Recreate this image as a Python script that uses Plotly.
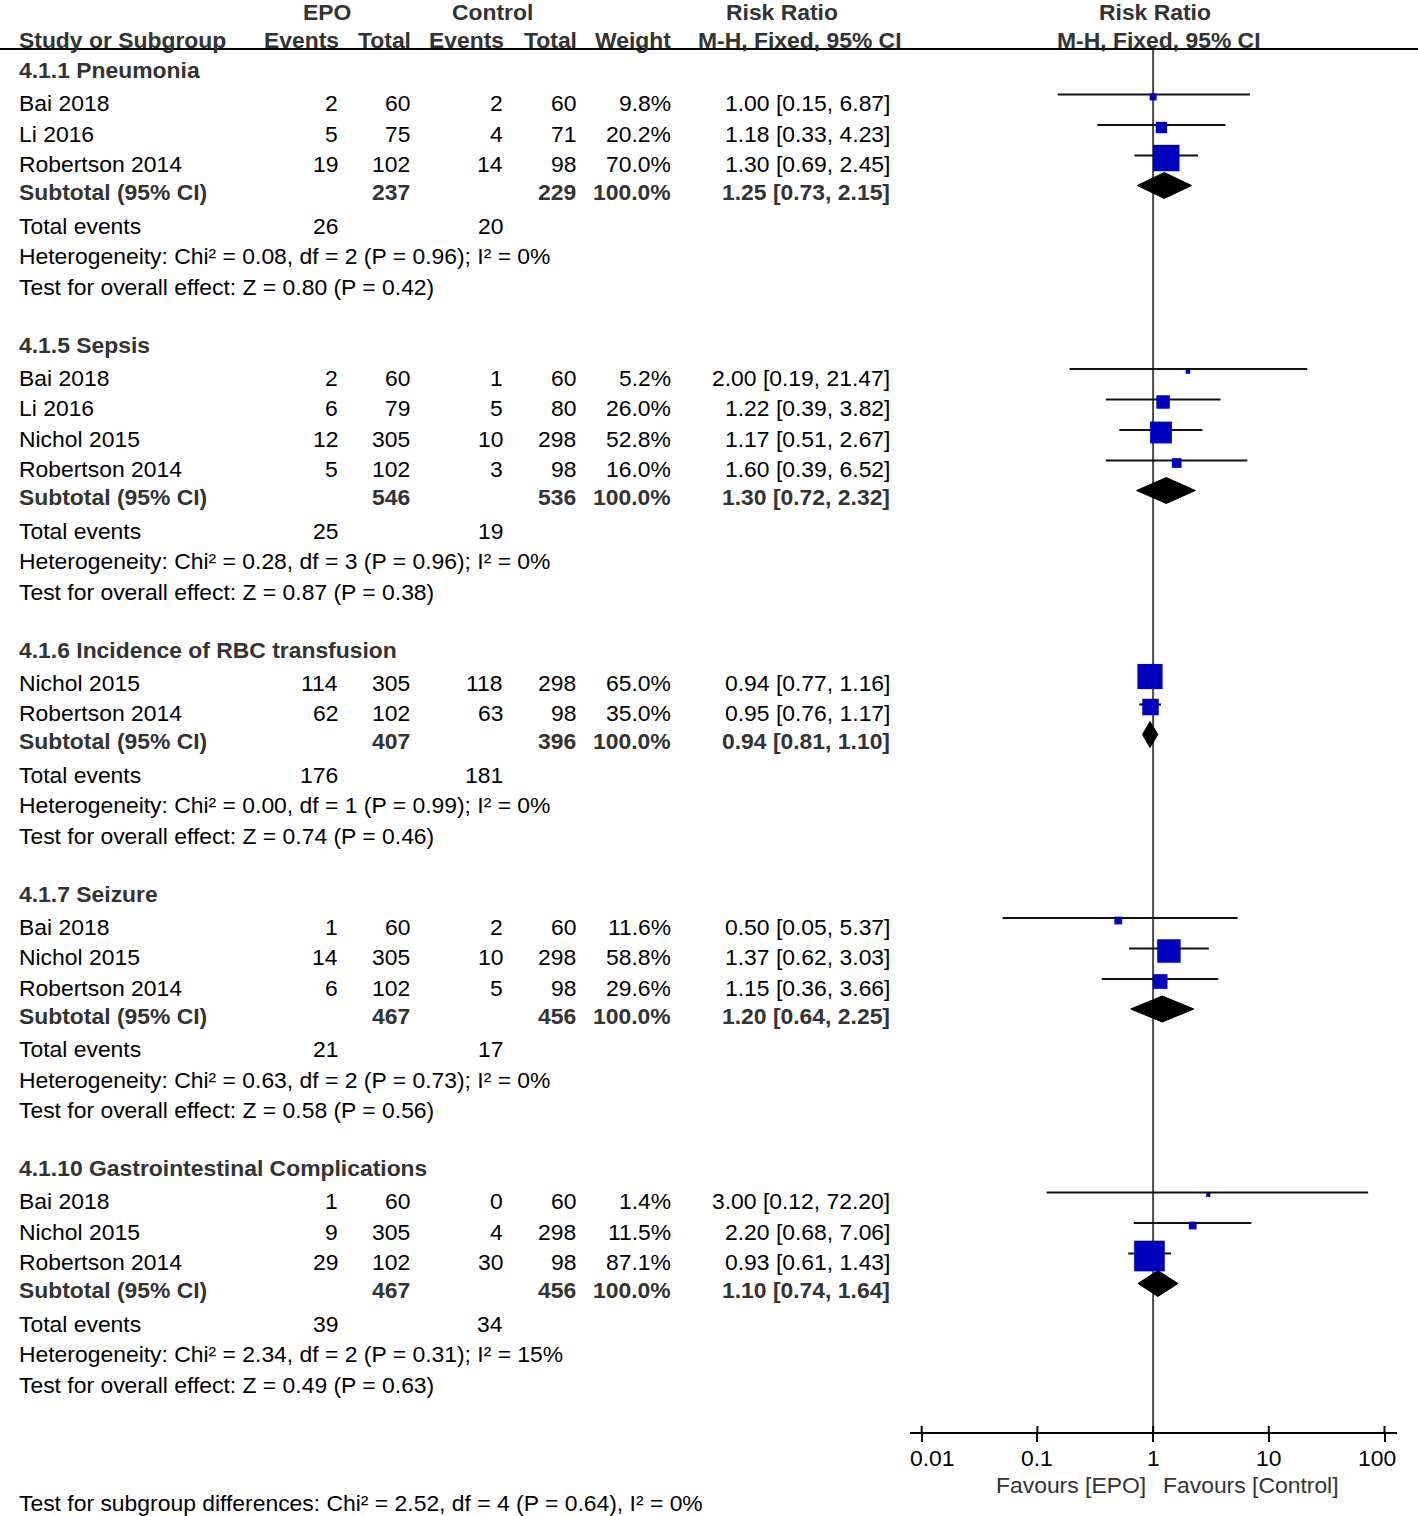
import math
import plotly.graph_objects as go

W, H = 1418, 1516

# ---------------- data ----------------
group_names = ["4.1.1 Pneumonia", "4.1.5 Sepsis", "4.1.6 Incidence of RBC transfusion",
               "4.1.7 Seizure", "4.1.10 Gastrointestinal Complications"]
study_names = [["Bai 2018", "Li 2016", "Robertson 2014"],
               ["Bai 2018", "Li 2016", "Nichol 2015", "Robertson 2014"],
               ["Nichol 2015", "Robertson 2014"],
               ["Bai 2018", "Nichol 2015", "Robertson 2014"],
               ["Bai 2018", "Nichol 2015", "Robertson 2014"]]
epo_events = [[2, 5, 19], [2, 6, 12, 5], [114, 62], [1, 14, 6], [1, 9, 29]]
epo_totals = [[60, 75, 102], [60, 79, 305, 102], [305, 102], [60, 305, 102], [60, 305, 102]]
ctl_events = [[2, 4, 14], [1, 5, 10, 3], [118, 63], [2, 10, 5], [0, 4, 30]]
ctl_totals = [[60, 71, 98], [60, 80, 298, 98], [298, 98], [60, 298, 98], [60, 298, 98]]
weights = [[9.8, 20.2, 70.0], [5.2, 26.0, 52.8, 16.0], [65.0, 35.0], [11.6, 58.8, 29.6], [1.4, 11.5, 87.1]]
rr = [[1.00, 1.18, 1.30], [2.00, 1.22, 1.17, 1.60], [0.94, 0.95], [0.50, 1.37, 1.15], [3.00, 2.20, 0.93]]
rr_lo = [[0.15, 0.33, 0.69], [0.19, 0.39, 0.51, 0.39], [0.77, 0.76], [0.05, 0.62, 0.36], [0.12, 0.68, 0.61]]
rr_hi = [[6.87, 4.23, 2.45], [21.47, 3.82, 2.67, 6.52], [1.16, 1.17], [5.37, 3.03, 3.66], [72.20, 7.06, 1.43]]

sub_epo_total = [237, 546, 407, 467, 467]
sub_ctl_total = [229, 536, 396, 456, 456]
sub_rr = [1.25, 1.30, 0.94, 1.20, 1.10]
sub_lo = [0.73, 0.72, 0.81, 0.64, 0.74]
sub_hi = [2.15, 2.32, 1.10, 2.25, 1.64]
tot_epo_events = [26, 25, 176, 21, 39]
tot_ctl_events = [20, 19, 181, 17, 34]
het_chi2 = [0.08, 0.28, 0.00, 0.63, 2.34]
het_df = [2, 3, 1, 2, 2]
het_p = [0.96, 0.96, 0.99, 0.73, 0.31]
het_i2 = [0, 0, 0, 0, 15]
z_vals = [0.80, 0.87, 0.74, 0.58, 0.49]
z_p = [0.42, 0.38, 0.46, 0.56, 0.63]

tick_vals = [0.01, 0.1, 1, 10, 100]
tick_labels = ["0.01", "0.1", "1", "10", "100"]
favours_left = "Favours [EPO]"
favours_right = "Favours [Control]"
subgroup_test = "Test for subgroup differences: Chi² = 2.52, df = 4 (P = 0.64), I² = 0%"

# ---------------- layout constants ----------------
FONT = "Liberation Sans, Arial, sans-serif"
FS = 22.9
BLACK = "#000000"
BOLDC = "#333333"
BLUE = "#0000BF"

X_NAME = 19
X_EPO_EV = 337
X_EPO_TOT = 409
X_CTL_EV = 502
X_CTL_TOT = 575
X_WEIGHT = 670
X_RR = 889
PAD = 2.5  # compensate annotation box padding

annotations = []


def txt(x, y, s, anchor="left", bold=False, color=None, xref="paper"):
    if xref == "paper":
        if anchor == "left":
            x -= PAD
        elif anchor == "right":
            x += PAD
        x = x / W
    annotations.append(dict(
        x=x, y=y, xref=xref, yref="y", text=("<b>%s</b>" % s) if bold else s,
        xanchor=anchor, yanchor="middle", showarrow=False,
        font=dict(family=FONT, size=FS, color=color or (BOLDC if bold else BLACK))))


# headers
txt(327, 12, "EPO", "center", True)
txt(492, 12, "Control", "center", True)
txt(782, 12, "Risk Ratio", "center", True)
txt(1155, 12, "Risk Ratio", "center", True)
txt(X_NAME, 40, "Study or Subgroup", "left", True)
txt(X_EPO_EV + 1, 40, "Events", "right", True)
txt(X_EPO_TOT + 1, 40, "Total", "right", True)
txt(X_CTL_EV + 1, 40, "Events", "right", True)
txt(X_CTL_TOT + 1, 40, "Total", "right", True)
txt(X_WEIGHT, 40, "Weight", "right", True)
txt(800, 40, "M-H, Fixed, 95% CI", "center", True)
txt(1159, 40, "M-H, Fixed, 95% CI", "center", True)

fig = go.Figure()

ci_x, ci_y = [], []
sq_x, sq_y, sq_s = [], [], []
diamonds = []

y = 70
for g in range(len(group_names)):
    txt(X_NAME, y, group_names[g], "left", True)
    for i in range(len(study_names[g])):
        y += 33 if i == 0 else 30.5
        txt(X_NAME, y, study_names[g][i])
        txt(X_EPO_EV, y, str(epo_events[g][i]), "right")
        txt(X_EPO_TOT, y, str(epo_totals[g][i]), "right")
        txt(X_CTL_EV, y, str(ctl_events[g][i]), "right")
        txt(X_CTL_TOT, y, str(ctl_totals[g][i]), "right")
        txt(X_WEIGHT, y, "%.1f%%" % weights[g][i], "right")
        txt(X_RR, y, "%.2f [%.2f, %.2f]" % (rr[g][i], rr_lo[g][i], rr_hi[g][i]), "right")
        yf = y - 8.5
        ci_x += [rr_lo[g][i], rr_hi[g][i], None]
        ci_y += [yf, yf, None]
        sq_x.append(rr[g][i])
        sq_y.append(yf + 2.5)
        sq_s.append(max(4.0, 1.47 * weights[g][i] ** 0.68))
    y += 28
    txt(X_NAME, y, "Subtotal (95% CI)", "left", True)
    txt(X_EPO_TOT, y, str(sub_epo_total[g]), "right", True)
    txt(X_CTL_TOT, y, str(sub_ctl_total[g]), "right", True)
    txt(X_WEIGHT, y, "100.0%", "right", True)
    txt(X_RR, y, "%.2f [%.2f, %.2f]" % (sub_rr[g], sub_lo[g], sub_hi[g]), "right", True)
    diamonds.append((g, y - 6.5))
    y += 33.5
    txt(X_NAME, y, "Total events")
    txt(X_EPO_EV, y, str(tot_epo_events[g]), "right")
    txt(X_CTL_EV, y, str(tot_ctl_events[g]), "right")
    y += 30.5
    txt(X_NAME, y, "Heterogeneity: Chi² = %.2f, df = %d (P = %.2f); I² = %d%%"
        % (het_chi2[g], het_df[g], het_p[g], het_i2[g]))
    y += 30.5
    txt(X_NAME, y, "Test for overall effect: Z = %.2f (P = %.2f)" % (z_vals[g], z_p[g]))
    y += 58

txt(X_NAME, 1503, subgroup_test)
txt(1145, 1485, favours_left, "right", color="#333333")
txt(1163, 1485, favours_right, "left", color="#333333")

AXIS_Y = 1433
x_left_px, x_right_px = 909.5, 1396.7
px_per_dec = 115.7
x0_px = 921.7
rng = [-2 + (x_left_px - x0_px) / px_per_dec, -2 + (x_right_px - x0_px) / px_per_dec]

# tick labels: end labels are kept inside the axis extent
for k, (t, lab) in enumerate(zip(tick_vals, tick_labels)):
    if k == 0:
        txt(x_left_px + 1, 1458, lab, "left")
    elif k == len(tick_vals) - 1:
        txt(x_right_px - 1, 1458, lab, "right")
    else:
        txt(math.log10(t), 1458, lab, "center", xref="x")

# null line
fig.add_trace(go.Scatter(x=[1, 1], y=[49, AXIS_Y], mode="lines",
                         line=dict(color="#4a4a4a", width=2), hoverinfo="skip"))
# CI lines
fig.add_trace(go.Scatter(x=ci_x, y=ci_y, mode="lines",
                         line=dict(color="#111111", width=2.2), hoverinfo="skip"))
# squares
fig.add_trace(go.Scatter(x=sq_x, y=sq_y, mode="markers",
                         marker=dict(symbol="square", size=sq_s, color=BLUE, opacity=1,
                                     line=dict(width=0)), hoverinfo="skip"))
# diamonds
for g, yd in diamonds:
    fig.add_trace(go.Scatter(
        x=[sub_lo[g], sub_rr[g], sub_hi[g], sub_rr[g], sub_lo[g]],
        y=[yd, yd - 13, yd, yd + 13, yd], mode="lines", fill="toself",
        fillcolor="#000000", line=dict(color="#000000", width=1), hoverinfo="skip"))
# upper halves of axis ticks
tx, ty = [], []
for t in tick_vals:
    tx += [t, t, None]
    ty += [AXIS_Y, AXIS_Y - 7, None]
fig.add_trace(go.Scatter(x=tx, y=ty, mode="lines", line=dict(color="#000000", width=2),
                         hoverinfo="skip"))

fig.update_layout(
    template="none",
    width=W, height=H, autosize=False, margin=dict(l=0, r=0, t=0, b=0, pad=0),
    paper_bgcolor="white", plot_bgcolor="rgba(0,0,0,0)",
    showlegend=False, annotations=annotations,
    xaxis=dict(type="log", range=rng, domain=[x_left_px / W, x_right_px / W],
               anchor="free", position=(H - AXIS_Y) / H, automargin=False,
               showline=True, linecolor="#000000", linewidth=2,
               ticks="outside", ticklen=8, tickwidth=2, tickcolor="#000000",
               tickvals=tick_vals, showticklabels=False,
               showgrid=False, zeroline=False),
    yaxis=dict(range=[H, 0], domain=[0, 1], visible=False, showgrid=False, zeroline=False,
               automargin=False),
    shapes=[dict(type="line", xref="paper", yref="y", x0=0, x1=1, y0=49, y1=49,
                 line=dict(color="#000000", width=2))],
)

fig.write_html("out.html", config={"displayModeBar": False, "responsive": False},
               post_script="document.body.style.margin='0';")
